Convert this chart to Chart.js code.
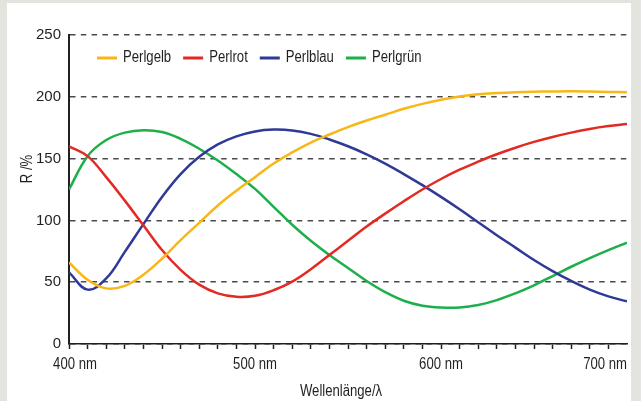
<!DOCTYPE html>
<html>
<head>
<meta charset="utf-8">
<script src="https://cdn.jsdelivr.net/npm/chart.js@4.4.1/dist/chart.umd.min.js"></script>
<style>
  html, body { margin: 0; padding: 0; width: 641px; height: 401px; overflow: hidden; background: #e4e4df; }
  #panel { position: absolute; left: 7px; top: 3px; width: 624px; height: 398px; background: #ffffff; }
  canvas { display: block; }
</style>
</head>
<body>
<div id="panel"><canvas id="chart" width="624" height="398"></canvas></div>
<script>
// Wavelength grid (nm)
const wavelengths = [400, 410, 420, 430, 440, 450, 460, 470, 480, 490,
                     500, 510, 520, 530, 540, 550, 560, 570, 580, 590,
                     600, 610, 620, 630, 640, 650, 660, 670, 680, 690, 700];

// Reflectance R (%) per pigment
const perlgelb  = [66, 52, 45, 47, 56, 69, 84, 98, 112, 124,
                   135, 146, 155, 163, 169.5, 175.5, 180.8, 185.5, 190.3, 194.3,
                   197.6, 200.2, 202, 203, 203.7, 204.1, 204.3, 204.4, 204.2, 203.9, 203.7];
const perlrot   = [160, 152, 135, 116, 96, 76, 60, 48, 41, 38.2,
                   39, 43.5, 50.5, 60.5, 72, 83.5, 95, 105.5, 115.5, 125,
                   133.5, 141, 147.5, 153.5, 158.8, 163.5, 167.5, 171, 174, 176.3, 178];
const perlblau  = [58, 44, 53, 74.5, 97, 119, 137.5, 151.5, 161.5, 168,
                   172, 173.5, 172.8, 170, 165.5, 160, 153.5, 146, 137.5, 128.5,
                   119, 109, 98.5, 88, 78, 68, 59, 51, 44, 38.5, 34.5];
const perlgruen = [125, 152, 165, 171, 173, 171.5, 166, 158, 148.5, 137.5,
                   125.5, 111, 96.5, 83.5, 72, 61.5, 51, 42, 35, 31,
                   29.5, 29.5, 31.5, 35.5, 41, 47.5, 55, 62.5, 69.5, 76, 82];

const seriesNames  = ['Perlgelb', 'Perlrot', 'Perlblau', 'Perlgrün'];
const seriesValues = [perlgelb, perlrot, perlblau, perlgruen];
const seriesColors = ['#f8b716', '#e32a22', '#2f3996', '#1daf4b'];

// Axis ticks and titles
const yTickValues = [0, 50, 100, 150, 200, 250];
const xTickValues = [400, 500, 600, 700];
const xTickLabels = ['400 nm', '500 nm', '600 nm', '700 nm'];
const xTitle = 'Wellenlänge/λ';
const yTitle = 'R /%';

const FONT = '"Liberation Sans", Arial, sans-serif';
const TEXT = '#231f20';
const NARROW = 0.82;   // horizontal squeeze for the condensed lettering

Chart.defaults.font.family = FONT;
Chart.defaults.font.size = 15;
Chart.defaults.color = TEXT;

const datasets = seriesNames.map((name, i) => ({
  label: name,
  data: wavelengths.map((w, k) => ({ x: w, y: seriesValues[i][k] })),
  borderColor: seriesColors[i],
  backgroundColor: seriesColors[i],
  borderWidth: 2.5,
  pointRadius: 0,
  tension: 0.4,
  fill: false
}));

// Condensed text helper
function narrowText(ctx, text, x, y, align) {
  const w = ctx.measureText(text).width * NARROW;
  let left = x;
  if (align === 'center') left = x - w / 2;
  else if (align === 'right') left = x - w;
  ctx.save();
  ctx.translate(left, y);
  ctx.scale(NARROW, 1);
  ctx.textAlign = 'left';
  ctx.fillText(text, 0, 0);
  ctx.restore();
  return w;
}

// Wavelength labels, axis titles and the in-plot legend
const annotate = {
  id: 'annotate',
  afterDraw(chart) {
    const { ctx, chartArea: a, scales: { x } } = chart;
    ctx.save();
    ctx.font = '16px ' + FONT;
    ctx.textBaseline = 'middle';
    ctx.fillStyle = TEXT;

    xTickValues.forEach((v, i) => {
      const last = i === xTickValues.length - 1;
      const first = i === 0;
      const px = last ? a.right : x.getPixelForValue(v) + (first ? 6 : 0);
      narrowText(ctx, xTickLabels[i], px, a.bottom + 21, last ? 'right' : 'center');
    });

    narrowText(ctx, xTitle, a.left + a.width * 0.4875, chart.height - 9, 'center');

    ctx.save();
    ctx.translate(21, a.top + 134);
    ctx.rotate(-Math.PI / 2);
    narrowText(ctx, yTitle, 0, 0, 'center');
    ctx.restore();

    let lx = a.left + 28;
    const ly = a.top + 23;
    chart.data.datasets.forEach(ds => {
      ctx.fillStyle = ds.borderColor;
      ctx.fillRect(lx, ly - 1.5, 20, 3);
      ctx.fillStyle = TEXT;
      const w = narrowText(ctx, ds.label, lx + 26, ly, 'left');
      lx += 26 + w + 12;
    });
    ctx.restore();
  }
};

new Chart(document.getElementById('chart'), {
  type: 'line',
  data: { datasets },
  plugins: [annotate],
  options: {
    responsive: false,
    animation: false,
    layout: { padding: { top: 32, right: 4, left: 0, bottom: 0 } },
    plugins: { legend: { display: false }, tooltip: { enabled: false } },
    scales: {
      x: {
        type: 'linear',
        min: 400,
        max: 700,
        afterBuildTicks(scale) {
          const t = [];
          for (let v = 400; v < 700; v += 10) t.push({ value: v });
          scale.ticks = t;
        },
        afterFit(scale) { scale.height = 57; },
        ticks: { display: false },
        grid: { drawOnChartArea: false, drawTicks: true, tickLength: 5, tickWidth: 1.5, tickColor: TEXT },
        border: { display: true, color: TEXT, width: 1.5 }
      },
      y: {
        type: 'linear',
        min: 0,
        max: 250,
        afterBuildTicks(scale) { scale.ticks = yTickValues.map(v => ({ value: v })); },
        afterFit(scale) { scale.width = 62; },
        ticks: { padding: 8, color: TEXT, font: { size: 15 } },
        grid: { drawTicks: false, color: '#4a4a4a', lineWidth: 1.5 },
        border: { display: true, color: TEXT, width: 2, dash: [5.5, 5.3] }
      }
    }
  }
});
</script>
</body>
</html>
